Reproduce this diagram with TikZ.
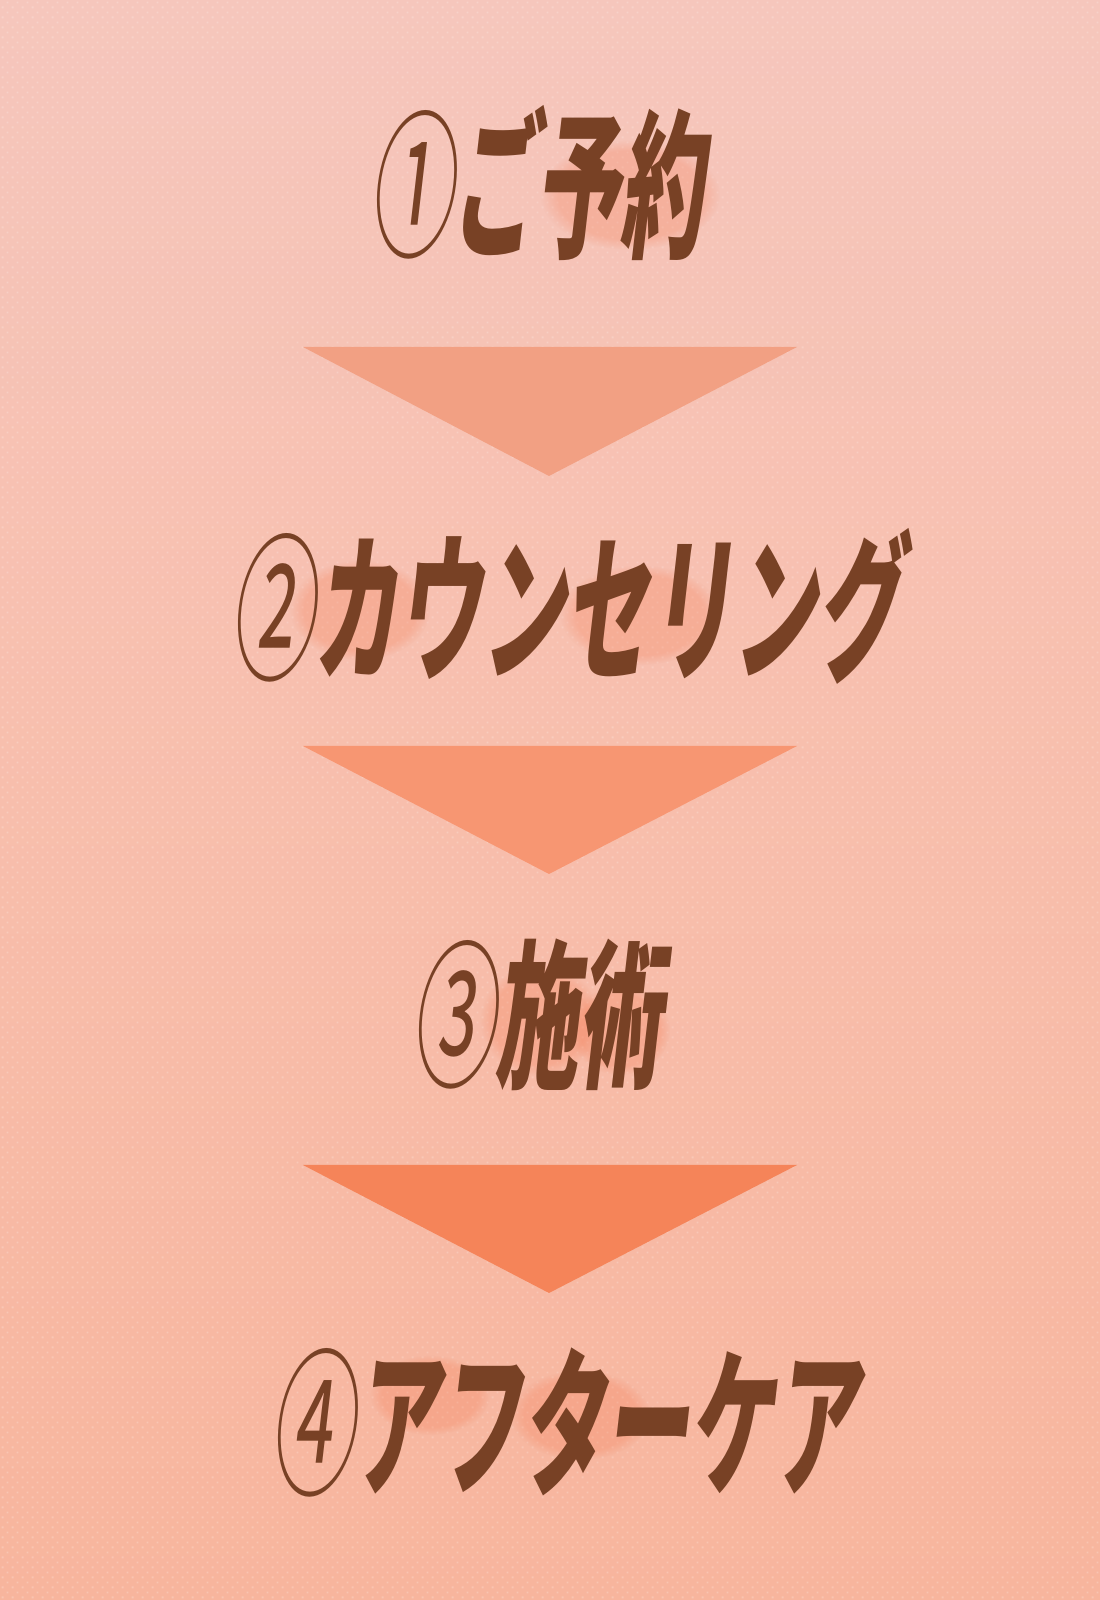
\documentclass[tikz,border=0pt]{standalone}
\usepackage{fontspec}
\newfontfamily\jp{Noto Sans CJK JP}
\usetikzlibrary{patterns.meta,fadings}
\definecolor{bgtop}{RGB}{246,198,188}
\definecolor{bgmid}{RGB}{247,190,172}
\definecolor{bgbot}{RGB}{247,181,157}
\definecolor{triA}{RGB}{242,160,131}
\definecolor{triB}{RGB}{247,150,114}
\definecolor{triC}{RGB}{245,132,89}
\definecolor{txtbrown}{RGB}{120,65,37}
\definecolor{glowc}{RGB}{245,125,85}
\tikzdeclarepattern{
  name=softdots,
  type=uncolored,
  bounding box={(0pt,0pt) and (2.835pt,2.835pt)},
  tile size={(2.835pt,2.835pt)},
  code={
    \fill (0.45pt,0.45pt) rectangle (1.0pt,1.0pt);
    \fill (1.87pt,1.87pt) rectangle (2.42pt,2.42pt);
  }
}
\tikzset{
  steptext/.style={text=txtbrown, inner sep=0pt, xscale=0.525, xslant=0.22,
    font=\jp\fontsize{45.4pt}{45.4pt}\selectfont\bfseries},
  flowtri/.style={draw=none},
  glowspot/.style={fill=glowc, opacity=0.28, path fading=circle with fuzzy edge 20 percent},
}
\begin{document}
\begin{tikzpicture}[x=0.01cm,y=0.01cm]
\useasboundingbox (0,0) rectangle (1100,1600);
% background
\shade[top color=bgtop, bottom color=bgbot, middle color=bgmid] (0,0) rectangle (1100,1600);
\fill[pattern=softdots, pattern color=white, opacity=0.22] (0,0) rectangle (1100,1600);
% soft glows behind texts
\fill[glowspot] (630,1405) ellipse (90 and 55);
\fill[glowspot] (360,990) ellipse (70 and 50);
\fill[glowspot] (640,985) ellipse (80 and 50);
\fill[glowspot] (540,580) ellipse (60 and 55);
\fill[glowspot] (620,570) ellipse (50 and 45);
\fill[glowspot] (430,205) ellipse (60 and 40);
\fill[glowspot] (580,185) ellipse (70 and 45);
% triangles (flow arrows)
\coordinate (t1l) at (303,1253); \coordinate (t1r) at (797,1253); \coordinate (t1a) at (549,1124);
\coordinate (t2l) at (303,854); \coordinate (t2r) at (797,854); \coordinate (t2a) at (549,726);
\coordinate (t3l) at (303,435); \coordinate (t3r) at (797,435); \coordinate (t3a) at (549,307);
\fill[flowtri, triA] (t1l) -- (t1r) -- (t1a) -- cycle;
\fill[flowtri, triB] (t2l) -- (t2r) -- (t2a) -- cycle;
\fill[flowtri, triC] (t3l) -- (t3r) -- (t3a) -- cycle;
% step texts
\node[steptext] (s1) at (543,1417) {{\mdseries ①}ご予約};
\node[steptext] (s2) at (572,994) {{\mdseries ②}カウンセリング};
\node[steptext] (s3) at (543,585) {{\mdseries ③}施術};
\node[steptext] (s4) at (570,177) {{\mdseries ④}アフターケア};
\end{tikzpicture}
\end{document}
